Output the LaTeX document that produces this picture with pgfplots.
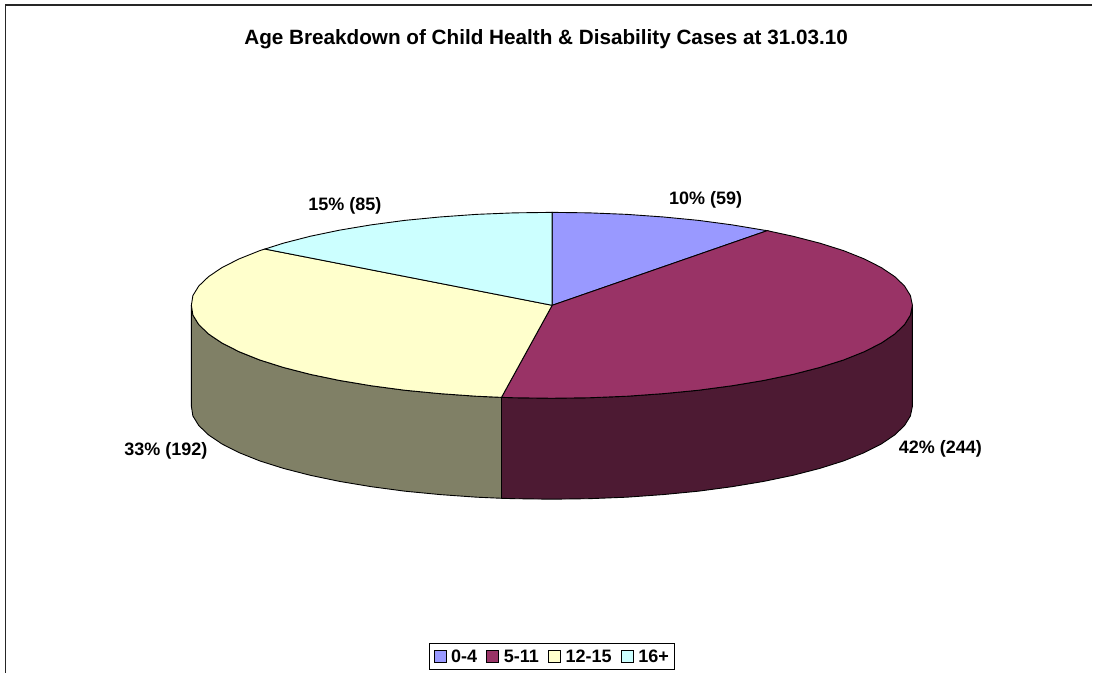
\documentclass[border=0pt]{standalone}
\usepackage{pgfplots}
\pgfplotsset{compat=1.18}
\usepackage{fontspec}
\setmainfont{Liberation Sans}
\definecolor{cA}{HTML}{9999FF}
\definecolor{cB}{HTML}{993366}
\definecolor{cC}{HTML}{FFFFCC}
\definecolor{cD}{HTML}{CCFFFF}
\definecolor{sB}{HTML}{4D1A33}
\definecolor{sC}{HTML}{808066}
\begin{document}
\begin{tikzpicture}
\begin{axis}[
  width=1093pt,height=673pt,scale only axis,
  xmin=0,xmax=1093,ymin=0,ymax=673,y dir=reverse,
  axis line style={draw=none},ticks=none,clip=false,
  legend columns=-1,
  legend style={at={(axis cs:552.5,657)},anchor=center,draw=black,line width=0.9pt,inner xsep=4pt,inner ysep=4pt,
    font=\bfseries\fontsize{18}{20}\selectfont,
    /tikz/every odd column/.append style={column sep=3pt},
    /tikz/every even column/.append style={column sep=7pt}},
  legend image code/.code={\draw[#1,line width=0.7pt] (0pt,-6pt) rectangle (12pt,6pt);},
]
% frame
\addplot[forget plot,black!85,line width=1.4pt] coordinates {(5.7,673) (5.7,5) (1093,5)};
% side walls
\addplot[forget plot,fill=sB,draw=black,line width=0.9pt] coordinates {
(913,305.5)(913,406.5)(911,416.2)(905.1,425.8)(895.3,435.2)(881.8,444.3)(864.6,453)(844.1,461.2)(820.3,468.7)(793.5,475.6)(764.2,481.7)(732.5,487)(698.8,491.5)(663.6,494.9)(627.1,497.5)(589.7,499)(552,499.5)(514.3,499)(501.8,498.6)(501.8,397.6)(514.3,398)(552,398.5)(589.7,398)(627.1,396.5)(663.6,393.9)(698.8,390.5)(732.5,386)(764.2,380.7)(793.5,374.6)(820.3,367.7)(844.1,360.2)(864.6,352)(881.8,343.3)(895.3,334.2)(905.1,324.8)(911,315.2)(913,305.5)};
\addplot[forget plot,fill=sC,draw=black,line width=0.9pt] coordinates {
(501.8,397.6)(501.8,498.6)(476.9,497.5)(440.4,494.9)(405.2,491.5)(371.5,487)(339.8,481.7)(310.5,475.6)(283.7,468.7)(259.9,461.2)(239.4,453)(222.2,444.3)(208.7,435.2)(198.9,425.8)(193,416.2)(191.5,406.5)(191.5,305.5)(193,315.2)(198.9,324.8)(208.7,334.2)(222.2,343.3)(239.4,352)(259.9,360.2)(283.7,367.7)(310.5,374.6)(339.8,380.7)(371.5,386)(405.2,390.5)(440.4,393.9)(476.9,396.5)(501.8,397.6)};
% top slices
\addplot[fill=cA,draw=black,line width=0.9pt] coordinates {
(552.5,305.5)(552.5,212.5)(589.7,213)(627.1,214.5)(663.6,217.1)(698.8,220.5)(732.5,225)(764.2,230.3)(767.7,230.8)(552.5,305.5)};
\addlegendentry{0-4}
\addplot[fill=cB,draw=black,line width=0.9pt] coordinates {
(552.5,305.5)(767.7,230.8)(793.5,236.4)(820.3,243.3)(844.1,250.8)(864.6,259)(881.8,267.7)(895.3,276.8)(905.1,286.2)(911,295.8)(913,305.5)(911,315.2)(905.1,324.8)(895.3,334.2)(881.8,343.3)(864.6,352)(844.1,360.2)(820.3,367.7)(793.5,374.6)(764.2,380.7)(732.5,386)(698.8,390.5)(663.6,393.9)(627.1,396.5)(589.7,398)(552,398.5)(514.3,398)(501.8,397.6)(552.5,305.5)};
\addlegendentry{5-11}
\addplot[fill=cC,draw=black,line width=0.9pt] coordinates {
(552.5,305.5)(501.8,397.6)(476.9,396.5)(440.4,393.9)(405.2,390.5)(371.5,386)(339.8,380.7)(310.5,374.6)(283.7,367.7)(259.9,360.2)(239.4,352)(222.2,343.3)(208.7,334.2)(198.9,324.8)(193,315.2)(191.5,305.5)(193,295.8)(198.9,286.2)(208.7,276.8)(222.2,267.7)(239.4,259)(259.9,250.8)(265.1,249.2)(552.5,305.5)};
\addlegendentry{12-15}
\addplot[fill=cD,draw=black,line width=0.9pt] coordinates {
(552.5,305.5)(265.1,249.2)(283.7,243.3)(310.5,236.4)(339.8,230.3)(371.5,225)(405.2,220.5)(440.4,217.1)(476.9,214.5)(514.3,213)(552.5,212.5)(552.5,305.5)};
\addlegendentry{16+}
\node[font=\bfseries\fontsize{20.7}{24}\selectfont,anchor=center] at (axis cs:546.5,39) {Age Breakdown of Child Health \& Disability Cases at 31.03.10};
\node[font=\bfseries\fontsize{18}{20}\selectfont] at (axis cs:706,200) {10\% (59)};
\node[font=\bfseries\fontsize{18}{20}\selectfont] at (axis cs:345,206) {15\% (85)};
\node[font=\bfseries\fontsize{18}{20}\selectfont] at (axis cs:166,451) {33\% (192)};
\node[font=\bfseries\fontsize{18}{20}\selectfont] at (axis cs:941,449) {42\% (244)};
\end{axis}
\end{tikzpicture}
\end{document}
